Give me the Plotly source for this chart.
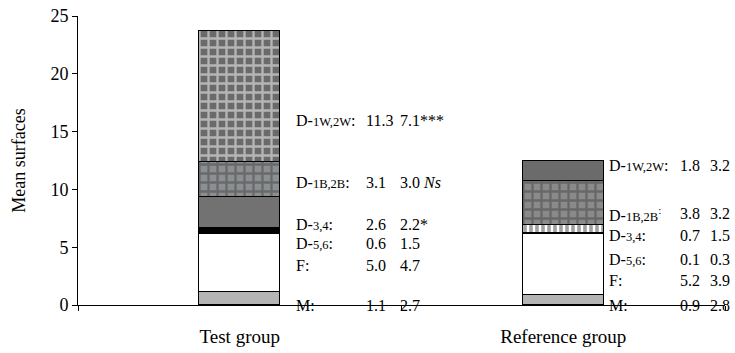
import plotly.graph_objects as go

# Groups and surface categories (stacked bottom to top)
groups = ["Test group", "Reference group"]
segments = ["M", "F", "D-5,6", "D-3,4", "D-1B,2B", "D-1W,2W"]

# Mean surfaces and second statistic for each category, per group
test_mean = [1.1, 5.0, 0.6, 2.6, 3.1, 11.3]
test_sd = [2.7, 4.7, 1.5, 2.2, 3.0, 7.1]
test_sig = ["", "", "", "*", " <i>Ns</i>", "***"]
ref_mean = [0.9, 5.2, 0.1, 0.7, 3.8, 1.8]
ref_sd = [2.8, 3.9, 0.3, 1.5, 3.2, 3.2]
ref_sig = ["", "", "", "", "", ""]

SMALL = "<span style='font-size:12.5px'>{}</span>"
seg_text = ["M:", "F:",
            "D-" + SMALL.format("5,6") + ":",
            "D-" + SMALL.format("3,4") + ":",
            "D-" + SMALL.format("1B,2B") + ":",
            "D-" + SMALL.format("1W,2W") + ":"]
ref_seg_text = list(seg_text)
ref_seg_text[4] = "D-" + SMALL.format("1B,2B") + "<sup>:</sup>"

# Fill styling per segment: (test bar, reference bar)
fill = {
    "M": ("#b4b4b4", "#b4b4b4"),
    "F": ("#ffffff", "#ffffff"),
    "D-5,6": ("#000000", "#000000"),
    "D-3,4": ("#727272", "#ffffff"),
    "D-1B,2B": ("#8c8f92", "#8a8a8a"),
    "D-1W,2W": ("#6a6a6a", "#6b6b6b"),
}
pattern_shape = {
    "M": ("", ""), "F": ("", ""), "D-5,6": ("", ""),
    "D-3,4": ("", "|"),
    "D-1B,2B": ("+", "+"),
    "D-1W,2W": ("+", ""),
}
pattern_fg = {
    "M": ("#000", "#000"), "F": ("#000", "#000"), "D-5,6": ("#000", "#000"),
    "D-3,4": ("#000", "#000000"),
    "D-1B,2B": ("#9c9fa2", "#989898"),
    "D-1W,2W": ("#7e7e7e", "#000"),
}
pattern_size = {
    "M": (8, 8), "F": (8, 8), "D-5,6": (8, 8),
    "D-3,4": (8, 6),
    "D-1B,2B": (9, 9),
    "D-1W,2W": (9, 8),
}
pattern_solidity = {
    "M": (0.3, 0.3), "F": (0.3, 0.3), "D-5,6": (0.3, 0.3),
    "D-3,4": (0.3, 0.6),
    "D-1B,2B": (0.45, 0.45),
    "D-1W,2W": (0.45, 0.3),
}

fig = go.Figure()
for i, seg in enumerate(segments):
    fig.add_trace(go.Bar(
        x=groups,
        y=[test_mean[i], ref_mean[i]],
        name=seg,
        width=0.25,
        marker=dict(
            color=list(fill[seg]),
            line=dict(color="#000000", width=1.5),
            pattern=dict(
                shape=list(pattern_shape[seg]),
                fgcolor=list(pattern_fg[seg]),
                solidity=list(pattern_solidity[seg]),
                size=list(pattern_size[seg]),
                fillmode="overlay",
            ),
        ),
        showlegend=False,
        hoverinfo="skip",
    ))

# Label rows beside each bar (vertical positions in axis units)
test_label_y = [0.0, 3.4, 5.3, 7.0, 10.6, 16.0]
ref_label_y = [0.0, 2.1, 3.9, 6.0, 7.9, 12.1]
test_cols = (0.168, 0.385, 0.49)
ref_cols = (1.135, 1.355, 1.447)

font = dict(family="Liberation Serif", size=16, color="#000000")
annotations = []


def add_rows(labels, means, sds, sigs, ys, cols):
    for lab, m, s, sig, y in zip(labels, means, sds, sigs, ys):
        for x, txt in zip(cols, (lab, f"{m:.1f}", f"{s:.1f}{sig}")):
            annotations.append(dict(
                x=x, y=y, xref="x", yref="y", text=txt, showarrow=False,
                xanchor="left", yanchor="middle", font=font,
            ))


add_rows(seg_text, test_mean, test_sd, test_sig, test_label_y, test_cols)
add_rows(ref_seg_text, ref_mean, ref_sd, ref_sig, ref_label_y, ref_cols)

fig.update_layout(
    barmode="stack",
    width=735, height=353,
    margin=dict(l=78, r=10, t=16, b=48),
    paper_bgcolor="#ffffff", plot_bgcolor="#ffffff",
    font=dict(family="Liberation Serif", color="#000000"),
    annotations=annotations,
    bargap=0,
)
fig.update_xaxes(
    type="category", range=[-0.5, 1.5], automargin=False,
    showline=True, linecolor="#000000", linewidth=1,
    ticks="outside", tickson="boundaries", ticklen=5, tickcolor="#000000",
    tickfont=dict(family="Liberation Serif", size=19),
    ticklabelstandoff=14, showgrid=False,
)
fig.update_yaxes(
    range=[0, 25], tickvals=[0, 5, 10, 15, 20, 25], automargin=False,
    showline=True, linecolor="#000000", linewidth=1,
    ticks="outside", ticklen=5, tickcolor="#000000",
    tickfont=dict(family="Liberation Serif", size=18),
    showgrid=False, zeroline=False,
    title=dict(text="Mean surfaces", font=dict(family="Liberation Serif", size=18), standoff=20),
)

fig.write_html("out.html")
